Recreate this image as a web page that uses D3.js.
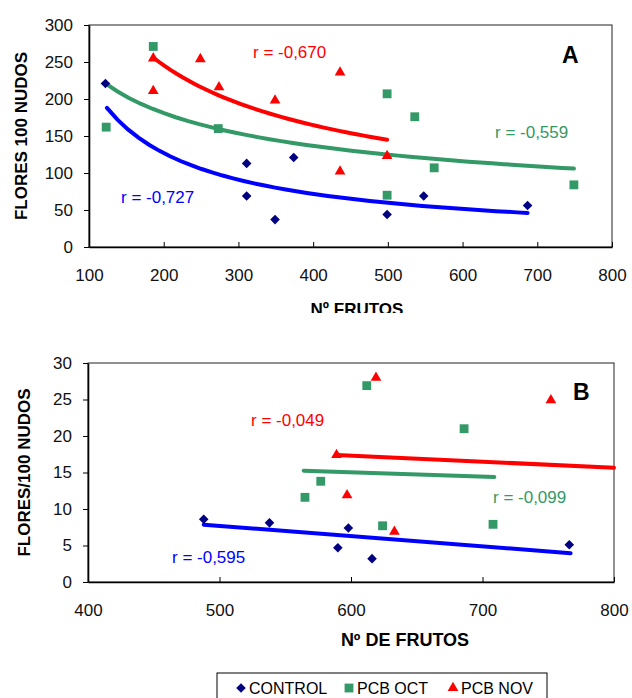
<!DOCTYPE html>
<html>
<head>
<meta charset="utf-8">
<script src="https://cdn.jsdelivr.net/npm/d3@7/dist/d3.min.js"></script>
<style>
    body { margin: 0; background: #fff; }
    text { font-family: "Liberation Sans", Arial, sans-serif; }
</style>
</head>
<body>
<div id="chart"></div>
<script>
// ---- data ----

// panel A: x = Nº frutos, y = flores / 100 nudos
var controlA = [[122, 221], [311, 113], [311, 69], [349, 37], [374, 121], [499, 44], [548, 69], [687, 56]];
var octA = [[123, 162], [186, 271], [273, 160], [499, 207], [536, 176], [562, 107], [499, 70], [749, 84]];
var novA = [[186, 255], [186, 211], [249, 254], [274, 216], [349, 198], [436, 236], [436, 102], [499, 123]];

// power trendlines (start / end points)
var controlFitA = [[124, 188], [687, 46]];
var octFitA = [[122, 221], [749, 106]];
var novFitA = [[186, 256], [499, 145]];

var xTicksA = [100, 200, 300, 400, 500, 600, 700, 800];
var yTicksA = [0, 50, 100, 150, 200, 250, 300];
var rLabelsA = ["r = -0,727", "r = -0,559", "r = -0,670"];

// panel B
var controlB = [[488, 8.6], [538, 8.1], [590, 4.7], [598, 7.4], [616, 3.2], [766, 5.1]];
var octB = [[565, 11.6], [577, 13.8], [612, 26.9], [624, 7.7], [686, 21], [708, 7.9]];
var novB = [[589, 17.4], [597, 11.9], [619, 28], [633, 6.9], [752, 24.9]];

// linear trendlines (start / end points)
var controlFitB = [[488, 7.85], [767, 3.95]];
var octFitB = [[564, 15.25], [709, 14.4]];
var novFitB = [[589, 17.4], [800, 15.65]];

var xTicksB = [400, 500, 600, 700, 800];
var yTicksB = [0, 5, 10, 15, 20, 25, 30];
var rLabelsB = ["r = -0,595", "r = -0,099", "r = -0,049"];

var seriesNames = ["CONTROL", "PCB OCT", "PCB NOV"];

window.onload = function()
{
    main();
};

function main()
{
    var svg = d3.select("#chart").append("svg")
        .attr("width", 632)
        .attr("height", 698);

    // top panel is cut just below its axis title, like the source image
    svg.append("clipPath").attr("id", "clipA")
        .append("rect").attr("width", 632).attr("height", 313);

    _drawPanel(svg.append("g").attr("clip-path", "url(#clipA)"), {
        box: {left: 89, top: 25, right: 612, bottom: 247},
        xDomain: [100, 800], yDomain: [0, 300],
        xTicks: xTicksA, yTicks: yTicksA,
        series: [controlA, octA, novA],
        fits: [controlFitA, octFitA, novFitA],
        power: true,
        rLabels: rLabelsA,
        rPos: [[121, 203], [495, 138], [253, 58]],
        letter: "A", letterPos: [562, 63],
        yTitle: "FLORES 100 NUDOS", yTitleX: 27, yTitleSize: 17,
        xTitle: "N\u00ba FRUTOS", xTitlePos: [357, 315], xTitleSize: 17
    });

    _drawPanel(svg.append("g"), {
        box: {left: 88, top: 363, right: 614, bottom: 582},
        xDomain: [400, 800], yDomain: [0, 30],
        xTicks: xTicksB, yTicks: yTicksB,
        series: [controlB, octB, novB],
        fits: [controlFitB, octFitB, novFitB],
        power: false,
        rLabels: rLabelsB,
        rPos: [[172, 563], [493, 503], [251, 426]],
        letter: "B", letterPos: [573, 400],
        yTitle: "FLORES/100 NUDOS", yTitleX: 30, yTitleSize: 17,
        xTitle: "N\u00ba DE FRUTOS", xTitlePos: [405, 646], xTitleSize: 18
    });

    _drawLegend(svg);
}

var markerColors = ["#000080", "#339966", "#FF0000"];
var lineColors = ["#0000FF", "#339966", "#FF0000"];
var labelColors = ["#0000FF", "#339966", "#FF0000"];

// marker path for series i
function _symbol(i)
{
    if (i == 0) return d3.symbol().type(d3.symbolSquare).size(46)();
    if (i == 1) return d3.symbol().type(d3.symbolSquare).size(78)();
    return d3.symbol().type(d3.symbolTriangle).size(50)();
}

function _drawPanel(g, cfg)
{
    var b = cfg.box,
        x = d3.scaleLinear().domain(cfg.xDomain).range([b.left, b.right]),
        y = d3.scaleLinear().domain(cfg.yDomain).range([b.bottom, b.top]);

    // frame
    g.append("rect")
        .attr("x", b.left).attr("y", b.top)
        .attr("width", b.right - b.left).attr("height", b.bottom - b.top)
        .attr("fill", "none").attr("stroke", "#222").attr("stroke-width", 1);

    // axes
    var xAxis = g.append("g")
        .attr("transform", "translate(0," + b.bottom + ")")
        .call(d3.axisBottom(x).tickValues(cfg.xTicks).tickFormat(d3.format("d"))
            .tickSizeInner(-5).tickSizeOuter(0).tickPadding(22));
    var yAxis = g.append("g")
        .attr("transform", "translate(" + b.left + ",0)")
        .call(d3.axisLeft(y).tickValues(cfg.yTicks).tickFormat(d3.format("d"))
            .tickSizeInner(5).tickSizeOuter(0).tickPadding(11));

    [xAxis, yAxis].forEach(function(a)
    {
        a.select(".domain").attr("stroke", "#000").attr("stroke-width", 1.6);
        a.selectAll(".tick line").attr("stroke", "#000").attr("stroke-width", 1);
        a.selectAll(".tick text")
            .attr("fill", "#111")
            .style("font-size", "17px")
            .style("font-family", "'Liberation Sans', Arial, sans-serif");
    });

    // trendlines
    cfg.fits.forEach(function(f, i)
    {
        var pts;
        if (cfg.power)
        {
            // power curve through the two end points: straight in log-log
            var bExp = Math.log(f[1][1] / f[0][1]) / Math.log(f[1][0] / f[0][0]),
                a = f[0][1] / Math.pow(f[0][0], bExp);
            pts = d3.range(0, 41).map(function(k)
            {
                var xv = f[0][0] + (f[1][0] - f[0][0]) * k / 40;
                return [xv, a * Math.pow(xv, bExp)];
            });
        }
        else
        {
            pts = f;
        }
        g.append("path")
            .datum(pts)
            .attr("fill", "none")
            .attr("stroke", lineColors[i])
            .attr("stroke-width", 4)
            .attr("stroke-linecap", "round")
            .attr("d", d3.line()
                .x(function(d) { return x(d[0]); })
                .y(function(d) { return y(d[1]); }));
    });

    // points
    cfg.series.forEach(function(s, i)
    {
        g.append("g").selectAll("path")
            .data(s)
            .enter().append("path")
            .attr("d", _symbol(i))
            .attr("fill", markerColors[i])
            .attr("transform", function(d)
            {
                return "translate(" + x(d[0]) + "," + y(d[1]) + ")" + (i == 0 ? " rotate(45)" : "");
            });
    });

    // r labels
    cfg.rLabels.forEach(function(t, i)
    {
        g.append("text")
            .attr("x", cfg.rPos[i][0]).attr("y", cfg.rPos[i][1])
            .attr("fill", labelColors[i])
            .style("font-size", "17px")
            .text(t);
    });

    // panel letter
    g.append("text")
        .attr("x", cfg.letterPos[0]).attr("y", cfg.letterPos[1])
        .style("font-size", "23px").style("font-weight", "bold")
        .text(cfg.letter);

    // axis titles
    g.append("text")
        .attr("transform", "translate(" + cfg.yTitleX + "," + ((b.top + b.bottom) / 2) + ") rotate(-90)")
        .attr("text-anchor", "middle")
        .style("font-size", cfg.yTitleSize + "px").style("font-weight", "bold")
        .text(cfg.yTitle);
    g.append("text")
        .attr("x", cfg.xTitlePos[0]).attr("y", cfg.xTitlePos[1])
        .attr("text-anchor", "middle")
        .style("font-size", cfg.xTitleSize + "px").style("font-weight", "bold")
        .text(cfg.xTitle);
}

function _drawLegend(svg)
{
    var lg = svg.append("g");
    lg.append("rect")
        .attr("x", 217).attr("y", 673)
        .attr("width", 330).attr("height", 40)
        .attr("fill", "#fff").attr("stroke", "#000").attr("stroke-width", 1);

    var itemX = [241, 349, 453];
    seriesNames.forEach(function(name, i)
    {
        lg.append("path")
            .attr("d", _symbol(i))
            .attr("fill", markerColors[i])
            .attr("transform", "translate(" + itemX[i] + ",688)" + (i == 0 ? " rotate(45)" : ""));
        lg.append("text")
            .attr("x", itemX[i] + 8).attr("y", 694)
            .style("font-size", "16px")
            .text(name);
    });
}
</script>
</body>
</html>
